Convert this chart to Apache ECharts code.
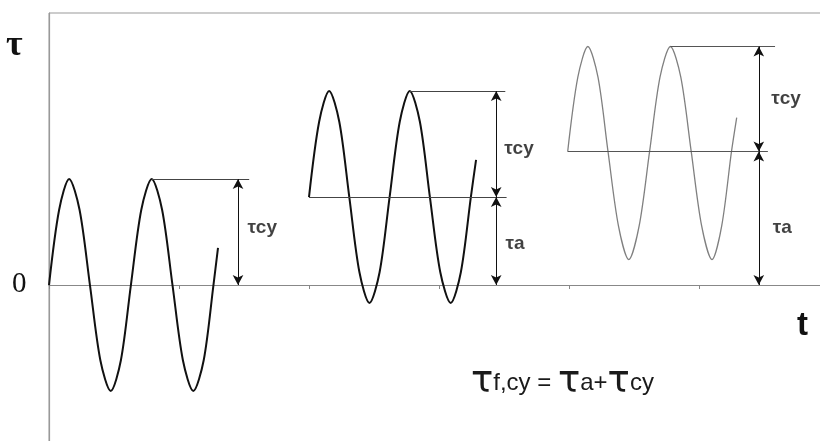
<!DOCTYPE html>
<html>
<head>
<meta charset="utf-8">
<script src="https://cdn.jsdelivr.net/npm/echarts@6/dist/echarts.min.js"></script>
<style>
  html, body { margin: 0; padding: 0; background: #fff; }
  #chart { width: 820px; height: 441px; }
</style>
</head>
<body>
<div id="chart"></div>
<script>
// x in tick units (1 tick = one division on the time axis), y in units of the cyclic amplitude
var wave1X = [0, 0.078, 0.155, 0.235, 0.315, 0.395, 0.475, 0.553, 0.63, 0.71, 0.79, 0.87, 0.95, 1.03, 1.11, 1.19, 1.265, 1.3];
var wave1Y = [0, 0.71, 1, 0.71, 0, -0.71, -1, -0.71, 0, 0.71, 1, 0.71, 0, -0.71, -1, -0.71, 0, 0.35];

var wave2X = [2.0, 2.078, 2.155, 2.233, 2.31, 2.388, 2.465, 2.543, 2.62, 2.698, 2.775, 2.853, 2.93, 3.01, 3.09, 3.168, 3.245, 3.285];
var wave2Y = [0.83, 1.54, 1.83, 1.54, 0.83, 0.12, -0.17, 0.12, 0.83, 1.54, 1.83, 1.54, 0.83, 0.12, -0.17, 0.12, 0.83, 1.18];

var wave3X = [3.99, 4.068, 4.145, 4.223, 4.30, 4.38, 4.46, 4.54, 4.62, 4.70, 4.78, 4.86, 4.94, 5.02, 5.10, 5.175, 5.25, 5.29];
var wave3Y = [1.26, 1.96, 2.25, 1.96, 1.26, 0.56, 0.24, 0.56, 1.26, 1.96, 2.25, 1.96, 1.26, 0.56, 0.24, 0.56, 1.26, 1.58];

// horizontal guide lines: [wave index, y, x start, x end]
var guideWave = [0, 1, 1, 2, 2];
var guideY = [1, 0.83, 1.83, 1.26, 2.25];
var guideX0 = [0.79, 2.0, 2.775, 3.99, 4.78];
var guideX1 = [1.54, 3.52, 3.51, 5.53, 5.585];

// double arrows
var arrowWave = [0, 1, 1, 2, 2];
var arrowX = [1.454, 3.44, 3.44, 5.46, 5.46];
var arrowY0 = [0, 0, 0.83, 0, 1.26];
var arrowY1 = [1, 0.83, 1.83, 1.26, 2.25];

// annotation labels
var labelX = [1.64, 3.615, 3.585, 5.67, 5.64];
var labelY = [0.54, 1.29, 0.39, 1.76, 0.54];
var labelText = ['τcy', 'τcy', 'τa', 'τcy', 'τa'];

var xTicks = [0, 1, 2, 3, 4, 5, 6];

function zip(xs, ys) {
  return xs.map(function (x, i) { return [x, ys[i]]; });
}

function marksFor(w) {
  var data = [];
  guideWave.forEach(function (g, i) {
    if (g !== w) return;
    data.push([
      { coord: [guideX0[i], guideY[i]], symbol: 'none' },
      { coord: [guideX1[i], guideY[i]], symbol: 'none' }
    ]);
  });
  arrowWave.forEach(function (a, i) {
    if (a !== w) return;
    data.push([
      { coord: [arrowX[i], arrowY0[i]], symbol: 'arrow', lineStyle: { color: '#111' } },
      { coord: [arrowX[i], arrowY1[i]], symbol: 'arrow' }
    ]);
  });
  return data;
}

var waveColors = ['#111', '#111', '#808080'];
var waveWidths = [2, 2, 1.3];
var guideColors = ['#444', '#444', '#555'];
var waves = [zip(wave1X, wave1Y), zip(wave2X, wave2Y), zip(wave3X, wave3Y)];

var chart = echarts.init(document.getElementById('chart'));

var series = waves.map(function (d, w) {
  return {
    type: 'line',
    data: d,
    smooth: 0.3,
    showSymbol: false,
    silent: true,
    lineStyle: { color: waveColors[w], width: waveWidths[w] },
    markLine: {
      silent: true,
      symbolSize: [8, 10],
      lineStyle: { color: guideColors[w], width: 1, type: 'solid' },
      itemStyle: { color: '#111' },
      label: { show: false },
      data: marksFor(w)
    }
  };
});

series.push({
  type: 'scatter',
  symbolSize: 0,
  silent: true,
  data: labelX.map(function (x, i) { return [x, labelY[i], labelText[i]]; }),
  label: {
    show: true,
    position: 'inside',
    formatter: function (p) { return p.data[2]; },
    fontFamily: 'Liberation Sans',
    fontWeight: 'bold',
    fontSize: 19,
    color: '#111'
  }
});

var option = {
  animation: false,
  backgroundColor: '#fff',
  grid: {
    left: 49, top: 13, right: -9, bottom: -20,
    outerBoundsMode: 'none',
    show: true, borderColor: '#999', borderWidth: 1
  },
  xAxis: {
    type: 'value',
    min: xTicks[0],
    max: xTicks[xTicks.length - 1],
    interval: 1,
    axisLine: { onZero: true, lineStyle: { color: '#888', width: 1.2 } },
    axisTick: { show: true, length: 4, lineStyle: { color: '#888' } },
    axisLabel: { show: false },
    splitLine: { show: false }
  },
  yAxis: {
    type: 'value',
    min: -1.66,
    max: 2.566,
    axisLine: { show: true, lineStyle: { color: '#999', width: 1.2 } },
    axisTick: { show: false },
    axisLabel: { show: false },
    splitLine: { show: false }
  },
  graphic: [
    { type: 'text', left: 6, top: 28, style: { text: 'τ', font: 'bold 36px "Liberation Serif"', fill: '#111' } },
    { type: 'text', left: 12, top: 270, style: { text: '0', font: '29px "Liberation Serif"', fill: '#111' } },
    { type: 'text', left: 797, top: 309, style: { text: 't', font: 'bold 33px "Liberation Sans"', fill: '#111' } },
    {
      type: 'text', left: 471, top: 364,
      style: {
        text: '{g|τ}{s|f,cy = }{g|τ}{s|a+}{g|τ}{s|cy}',
        rich: {
          g: { fontFamily: 'DejaVu Sans', fontSize: 37, fill: '#1a1a1a', verticalAlign: 'bottom' },
          s: { fontFamily: 'Liberation Sans', fontSize: 24, fill: '#1a1a1a', verticalAlign: 'bottom', padding: [0, 0, 6, 0] }
        }
      }
    }
  ],
  series: series
};

chart.setOption(option);
</script>
</body>
</html>
